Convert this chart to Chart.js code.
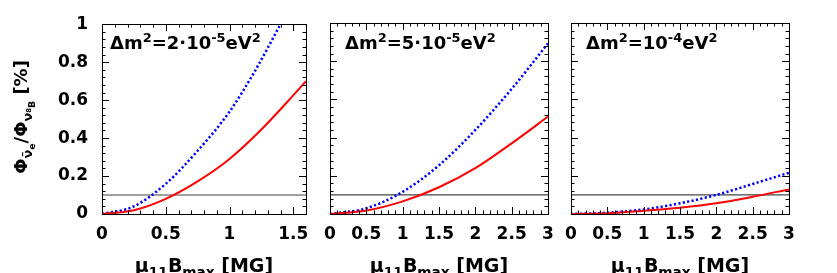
<!DOCTYPE html>
<html><head><meta charset="utf-8">
<script src="https://cdn.jsdelivr.net/npm/chart.js@4/dist/chart.umd.min.js"></script>
<style>
html,body{margin:0;padding:0;background:#fff;}
#wrap{position:relative;width:837px;height:273px;overflow:hidden;font-family:"DejaVu Sans",sans-serif;}
canvas{position:absolute;left:0;top:0;}
.lab{position:absolute;font-weight:bold;font-size:18px;white-space:nowrap;line-height:1;color:#000;}
.lab sup{font-size:72%;vertical-align:0.55em;line-height:0}
.lab sub{font-size:72%;vertical-align:-0.35em;line-height:0}
.xt{width:240px;text-align:center;top:256px;font-size:19px;}
</style></head>
<body>
<div id="wrap">
<canvas id="c1" width="837" height="273"></canvas>
<canvas id="c2" width="837" height="273"></canvas>
<canvas id="c3" width="837" height="273"></canvas>
<div class="lab" style="left:110px;top:34px;">&Delta;m<sup>2</sup>=2&middot;10<sup>-5</sup>eV<sup>2</sup></div>
<div class="lab" style="left:345px;top:34px;">&Delta;m<sup>2</sup>=5&middot;10<sup>-5</sup>eV<sup>2</sup></div>
<div class="lab" style="left:586px;top:34px;">&Delta;m<sup>2</sup>=10<sup>-4</sup>eV<sup>2</sup></div>
<div class="lab xt" style="left:84px;">&mu;<sub>11</sub>B<sub>max</sub> [MG]</div>
<div class="lab xt" style="left:319px;">&mu;<sub>11</sub>B<sub>max</sub> [MG]</div>
<div class="lab xt" style="left:560px;">&mu;<sub>11</sub>B<sub>max</sub> [MG]</div>
<div class="lab" style="left:-78px;top:107px;width:200px;height:20px;text-align:center;transform:rotate(-90deg);">&Phi;<sub>&nu;&#772;<sub>e</sub></sub>/&Phi;<sub>&nu;<sub><sup>8</sup>B</sub></sub> [%]</div>
</div>
<script>
// ---- data ----
const panel1X     = [0, 0.25, 0.5, 0.75, 1.0, 1.25, 1.5, 1.6];
const panel1Red   = [0, 0.02, 0.08, 0.172, 0.29, 0.445, 0.625, 0.70];
const panel1BlueX = [0, 0.25, 0.5, 0.75, 1.0, 1.2, 1.4];
const panel1Blue  = [0, 0.04, 0.159, 0.333, 0.539, 0.754, 1.0];

const panel2X    = [0, 0.5, 1, 1.5, 2, 2.5, 3];
const panel2Red  = [0, 0.018, 0.066, 0.14, 0.24, 0.37, 0.51];
const panel2Blue = [0, 0.03, 0.116, 0.255, 0.44, 0.655, 0.893];

const panel3X    = [0, 0.5, 1, 1.5, 2, 2.5, 3];
const panel3Red  = [0, 0.004, 0.017, 0.033, 0.056, 0.09, 0.129];
const panel3Blue = [0, 0.007, 0.024, 0.056, 0.1, 0.157, 0.216];

const refLevel = 0.1;
const yTicks   = [0, 0.2, 0.4, 0.6, 0.8, 1];
const xTicks1  = [0, 0.5, 1, 1.5];
const xTicks23 = [0, 0.5, 1, 1.5, 2, 2.5, 3];
const xMax1 = 1.6, xMax23 = 3;

// ---- helpers ----
const pts = (xs, ys) => xs.map((x, i) => ({x, y: ys[i]}));
const FONT = {family: '"DejaVu Sans", sans-serif', size: 17, weight: 'bold'};

const framePlugin = {
  id: 'frame',
  afterDatasetsDraw(chart) {
    const {ctx, chartArea: a, scales} = chart;
    const xs = scales.x, ys = scales.y;
    ctx.save();
    ctx.strokeStyle = '#000';
    ctx.lineWidth = 1;
    ctx.beginPath();
    const nx = Math.round(xs.max / 0.1);
    for (let i = 0; i <= nx; i++) {
      const px = Math.round(xs.getPixelForValue(i * 0.1)) + 0.5;
      const len = (i % 5 === 0) ? 7 : 3.5;
      ctx.moveTo(px, a.bottom); ctx.lineTo(px, a.bottom - len);
      ctx.moveTo(px, a.top); ctx.lineTo(px, a.top + len);
    }
    for (let i = 0; i <= 25; i++) {
      const py = Math.round(ys.getPixelForValue(i * 0.04)) + 0.5;
      const len = (i % 5 === 0) ? 7 : 3.5;
      ctx.moveTo(a.left, py); ctx.lineTo(a.left + len, py);
      ctx.moveTo(a.right, py); ctx.lineTo(a.right - len, py);
    }
    ctx.stroke();
    ctx.strokeRect(Math.round(a.left) + 0.5, Math.round(a.top) + 0.5,
                   Math.round(a.right - a.left), Math.round(a.bottom - a.top));
    ctx.restore();
  }
};

function makeChart(id, redPts, bluePts, xMax, xTicks, plotLeft, plotRight, showY) {
  return new Chart(document.getElementById(id), {
    type: 'line',
    data: {
      datasets: [
        {data: redPts, borderColor: '#ff0000', borderWidth: 2, pointRadius: 0,
         cubicInterpolationMode: 'monotone', fill: false},
        {data: bluePts, borderColor: '#0000ff', borderWidth: 2.5, borderDash: [2.2, 2.3],
         pointRadius: 0, cubicInterpolationMode: 'monotone', fill: false},
        {data: [{x: 0, y: refLevel}, {x: xMax, y: refLevel}], borderColor: '#444',
         borderWidth: 1.2, pointRadius: 0, fill: false}
      ]
    },
    options: {
      responsive: false, animation: false, devicePixelRatio: 1,
      layout: {padding: {left: showY ? 0 : plotLeft, right: 837 - plotRight, top: 23, bottom: 0}},
      plugins: {legend: {display: false}, tooltip: {enabled: false}},
      scales: {
        x: {
          type: 'linear', min: 0, max: xMax,
          afterBuildTicks: s => { s.ticks = xTicks.map(v => ({value: v})); },
          afterFit: s => { s.height = 59; },
          grid: {display: false, drawTicks: false}, border: {display: false},
          ticks: {font: FONT, color: '#000', padding: 10, maxRotation: 0, autoSkip: false,
                  callback: v => String(v)}
        },
        y: {
          type: 'linear', min: 0, max: 1, display: showY,
          afterBuildTicks: s => { s.ticks = yTicks.map(v => ({value: v})); },
          afterFit: s => { s.width = showY ? plotLeft : 0; },
          grid: {display: false, drawTicks: false}, border: {display: false},
          ticks: {font: FONT, color: '#000', padding: 14, autoSkip: false,
                  callback: v => String(v)}
        }
      }
    },
    plugins: [framePlugin]
  });
}

makeChart('c1', pts(panel1X, panel1Red), pts(panel1BlueX, panel1Blue), xMax1, xTicks1, 102, 306, true);
makeChart('c2', pts(panel2X, panel2Red), pts(panel2X, panel2Blue), xMax23, xTicks23, 330, 548, false);
makeChart('c3', pts(panel3X, panel3Red), pts(panel3X, panel3Blue), xMax23, xTicks23, 571, 789, false);
</script>
</body></html>
